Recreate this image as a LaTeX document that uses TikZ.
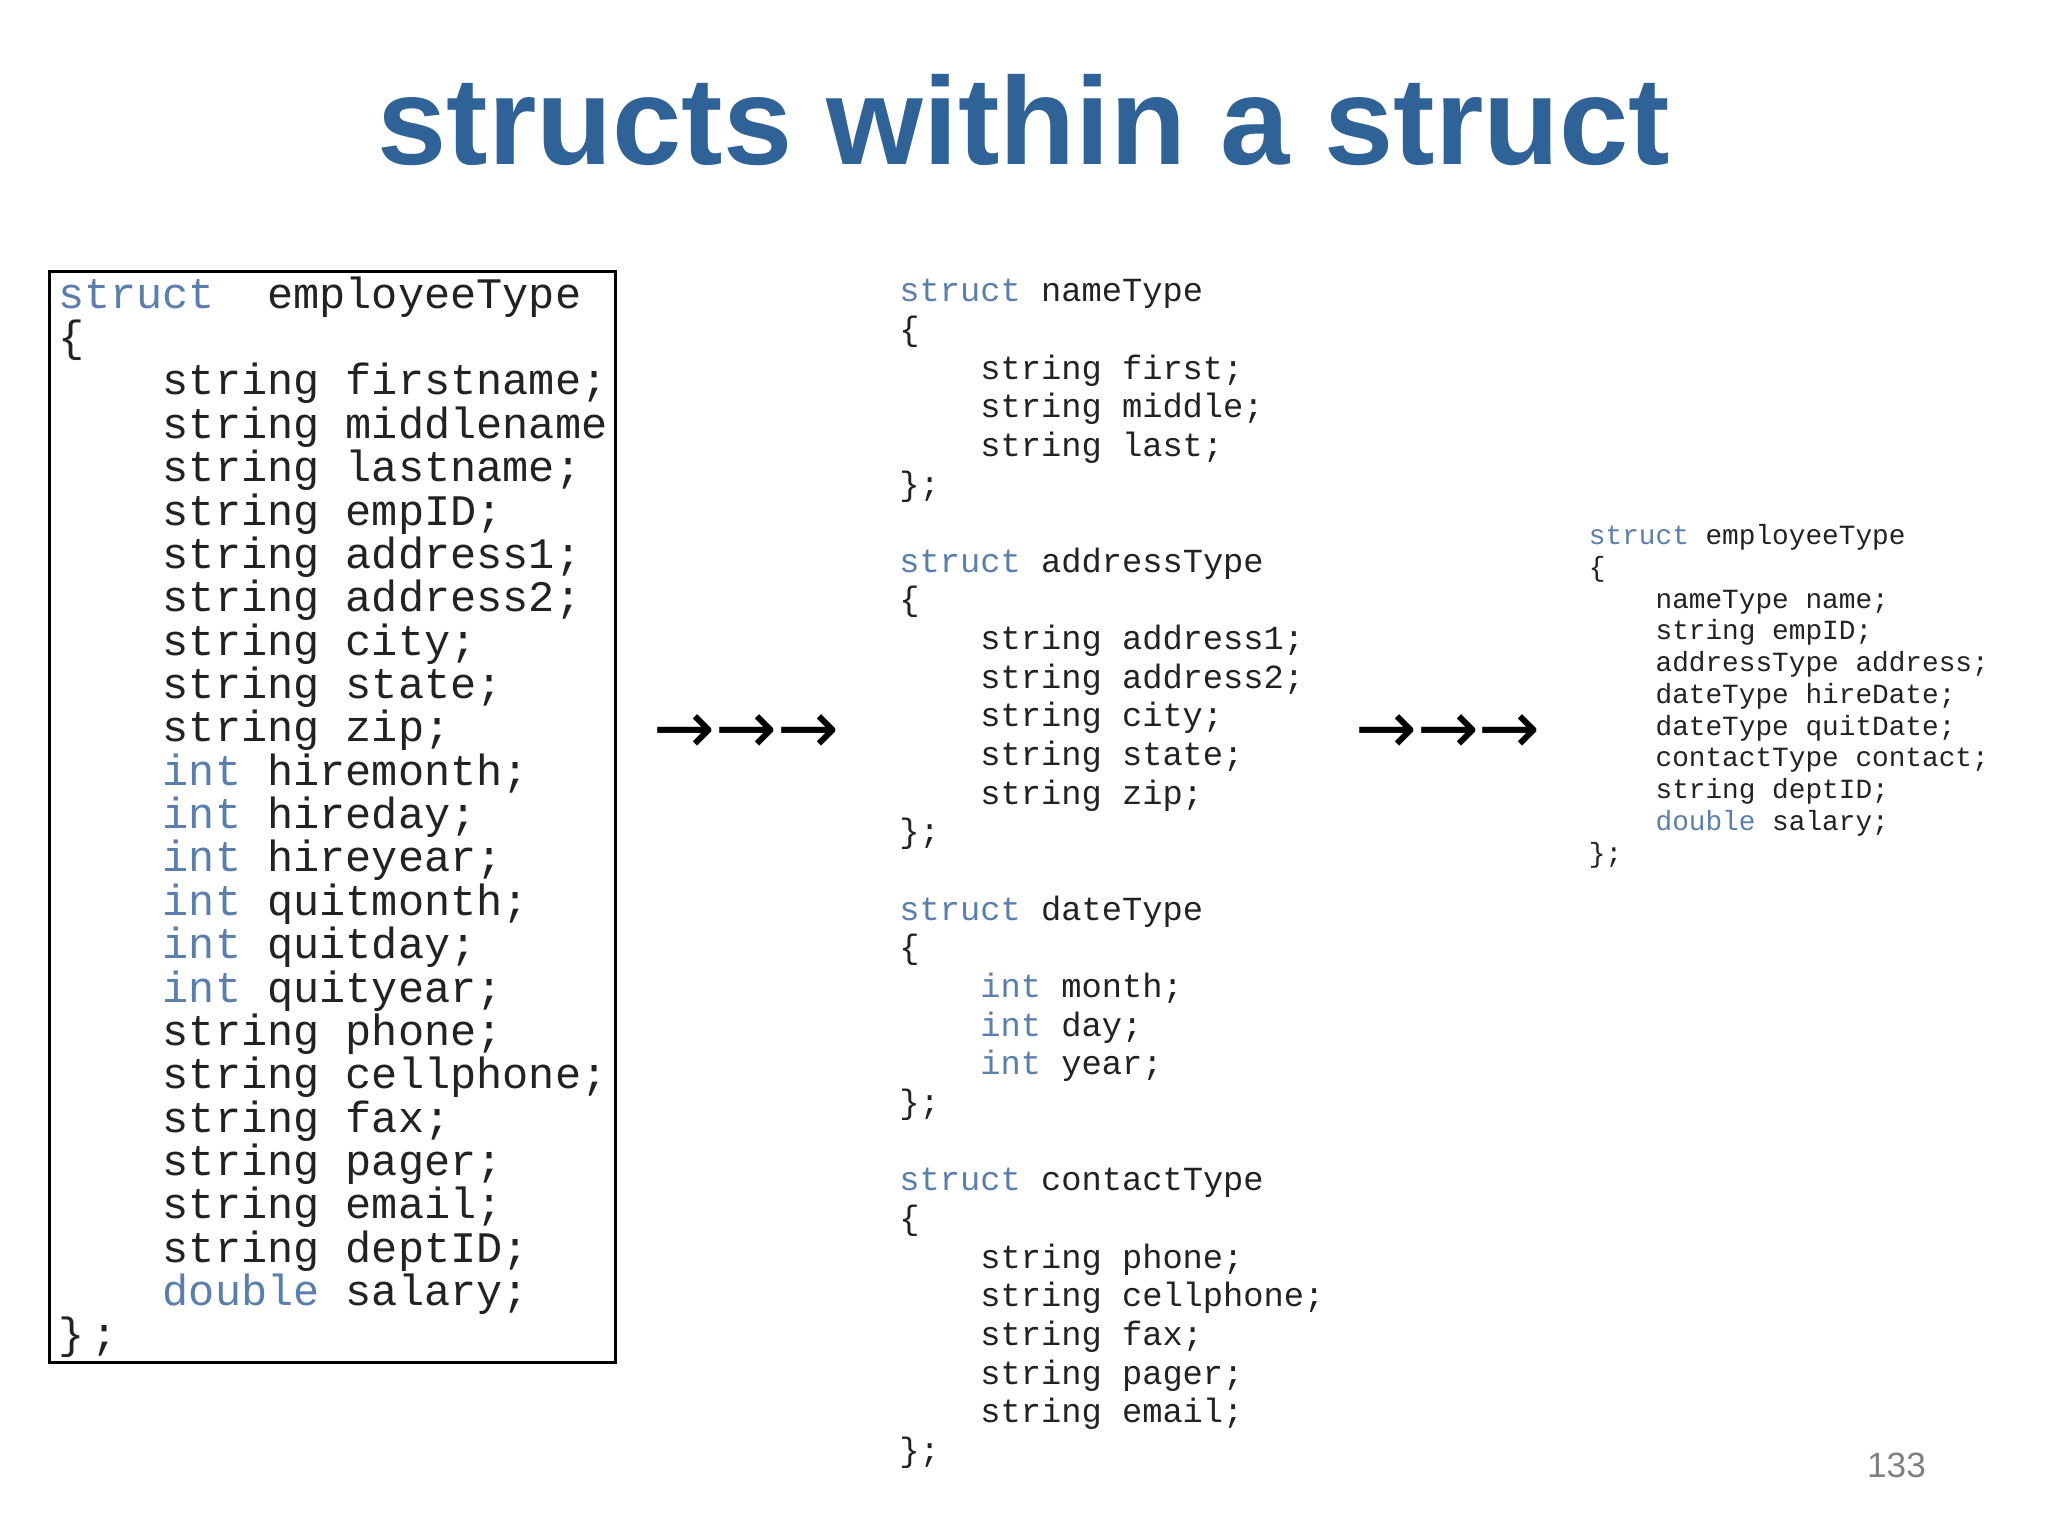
\documentclass[tikz,border=0pt]{standalone}
\usepackage{fontspec}
\setmainfont{Liberation Sans}
\setmonofont{Liberation Mono}
\newfontfamily\arrowfont{DejaVu Sans}
\definecolor{kw}{HTML}{5A7FAE}
\definecolor{titleblue}{HTML}{2F6296}
\definecolor{codeink}{HTML}{222222}
\newcommand{\kw}[1]{\textcolor{kw}{#1}}
\begin{document}
\begin{tikzpicture}[x=0.013061cm,y=-0.013061cm,
  codeL/.style={anchor=base west,inner sep=0pt,font=\ttfamily\fontsize{12.4}{14}\selectfont,text=codeink},
  codeM/.style={anchor=base west,inner sep=0pt,font=\ttfamily\fontsize{9.6}{11}\selectfont,text=codeink},
  codeR/.style={anchor=base west,inner sep=0pt,font=\ttfamily\fontsize{7.9}{9}\selectfont,text=codeink},
  arrows3/.style={anchor=west,inner sep=0pt,font=\arrowfont\fontsize{21}{24}\selectfont}]
\useasboundingbox[fill=white] (0,0) rectangle (1568,1176);
\node[font=\bfseries\fontsize{35.4}{40}\selectfont,text=titleblue] (title) at (784,92) {structs within a struct};
\draw[line width=0.8pt] (38,208) rectangle (471,1043);
\foreach \t [count=\i from 0] in {
  {\kw{struct}\ \ employeeType},{\{},
  {\ \ \ \ string firstname;},{\ \ \ \ string middlename},{\ \ \ \ string lastname;},
  {\ \ \ \ string empID;},{\ \ \ \ string address1;},{\ \ \ \ string address2;},
  {\ \ \ \ string city;},{\ \ \ \ string state;},{\ \ \ \ string zip;},
  {\ \ \ \ \kw{int} hiremonth;},{\ \ \ \ \kw{int} hireday;},{\ \ \ \ \kw{int} hireyear;},
  {\ \ \ \ \kw{int} quitmonth;},{\ \ \ \ \kw{int} quitday;},{\ \ \ \ \kw{int} quityear;},
  {\ \ \ \ string phone;},{\ \ \ \ string cellphone;},{\ \ \ \ string fax;},
  {\ \ \ \ string pager;},{\ \ \ \ string email;},{\ \ \ \ string deptID;},
  {\ \ \ \ \kw{double} salary;},{\}\,;}}
  \node[codeL] (L\i) at (44,{236+33.2*\i}) {\t};
\foreach \t [count=\i from 0] in {
  {\kw{struct} nameType},{\{},{\ \ \ \ string first;},{\ \ \ \ string middle;},{\ \ \ \ string last;},{\};},{},
  {\kw{struct} addressType},{\{},{\ \ \ \ string address1;},{\ \ \ \ string address2;},{\ \ \ \ string city;},{\ \ \ \ string state;},{\ \ \ \ string zip;},{\};},{},
  {\kw{struct} dateType},{\{},{\ \ \ \ \kw{int} month;},{\ \ \ \ \kw{int} day;},{\ \ \ \ \kw{int} year;},{\};},{},
  {\kw{struct} contactType},{\{},{\ \ \ \ string phone;},{\ \ \ \ string cellphone;},{\ \ \ \ string fax;},{\ \ \ \ string pager;},{\ \ \ \ string email;},{\};}}
  \node[codeM] (M\i) at (688,{231+29.6*\i}) {\t};
\foreach \t [count=\i from 0] in {
  {\kw{struct} employeeType},{\{},{\ \ \ \ nameType name;},{\ \ \ \ string empID;},
  {\ \ \ \ addressType address;},{\ \ \ \ dateType hireDate;},{\ \ \ \ dateType quitDate;},
  {\ \ \ \ contactType contact;},{\ \ \ \ string deptID;},{\ \ \ \ \kw{double} salary;},{\};}}
  \node[codeR] (R\i) at (1216,{417+24.3*\i}) {\t};
\node[arrows3] (arrA) at (500,562) {→→→};
\node[arrows3] (arrB) at (1037,562) {→→→};
\node[text=gray,font=\fontsize{10}{12}\selectfont] (page) at (1452,1122) {133};
\end{tikzpicture}
\end{document}
